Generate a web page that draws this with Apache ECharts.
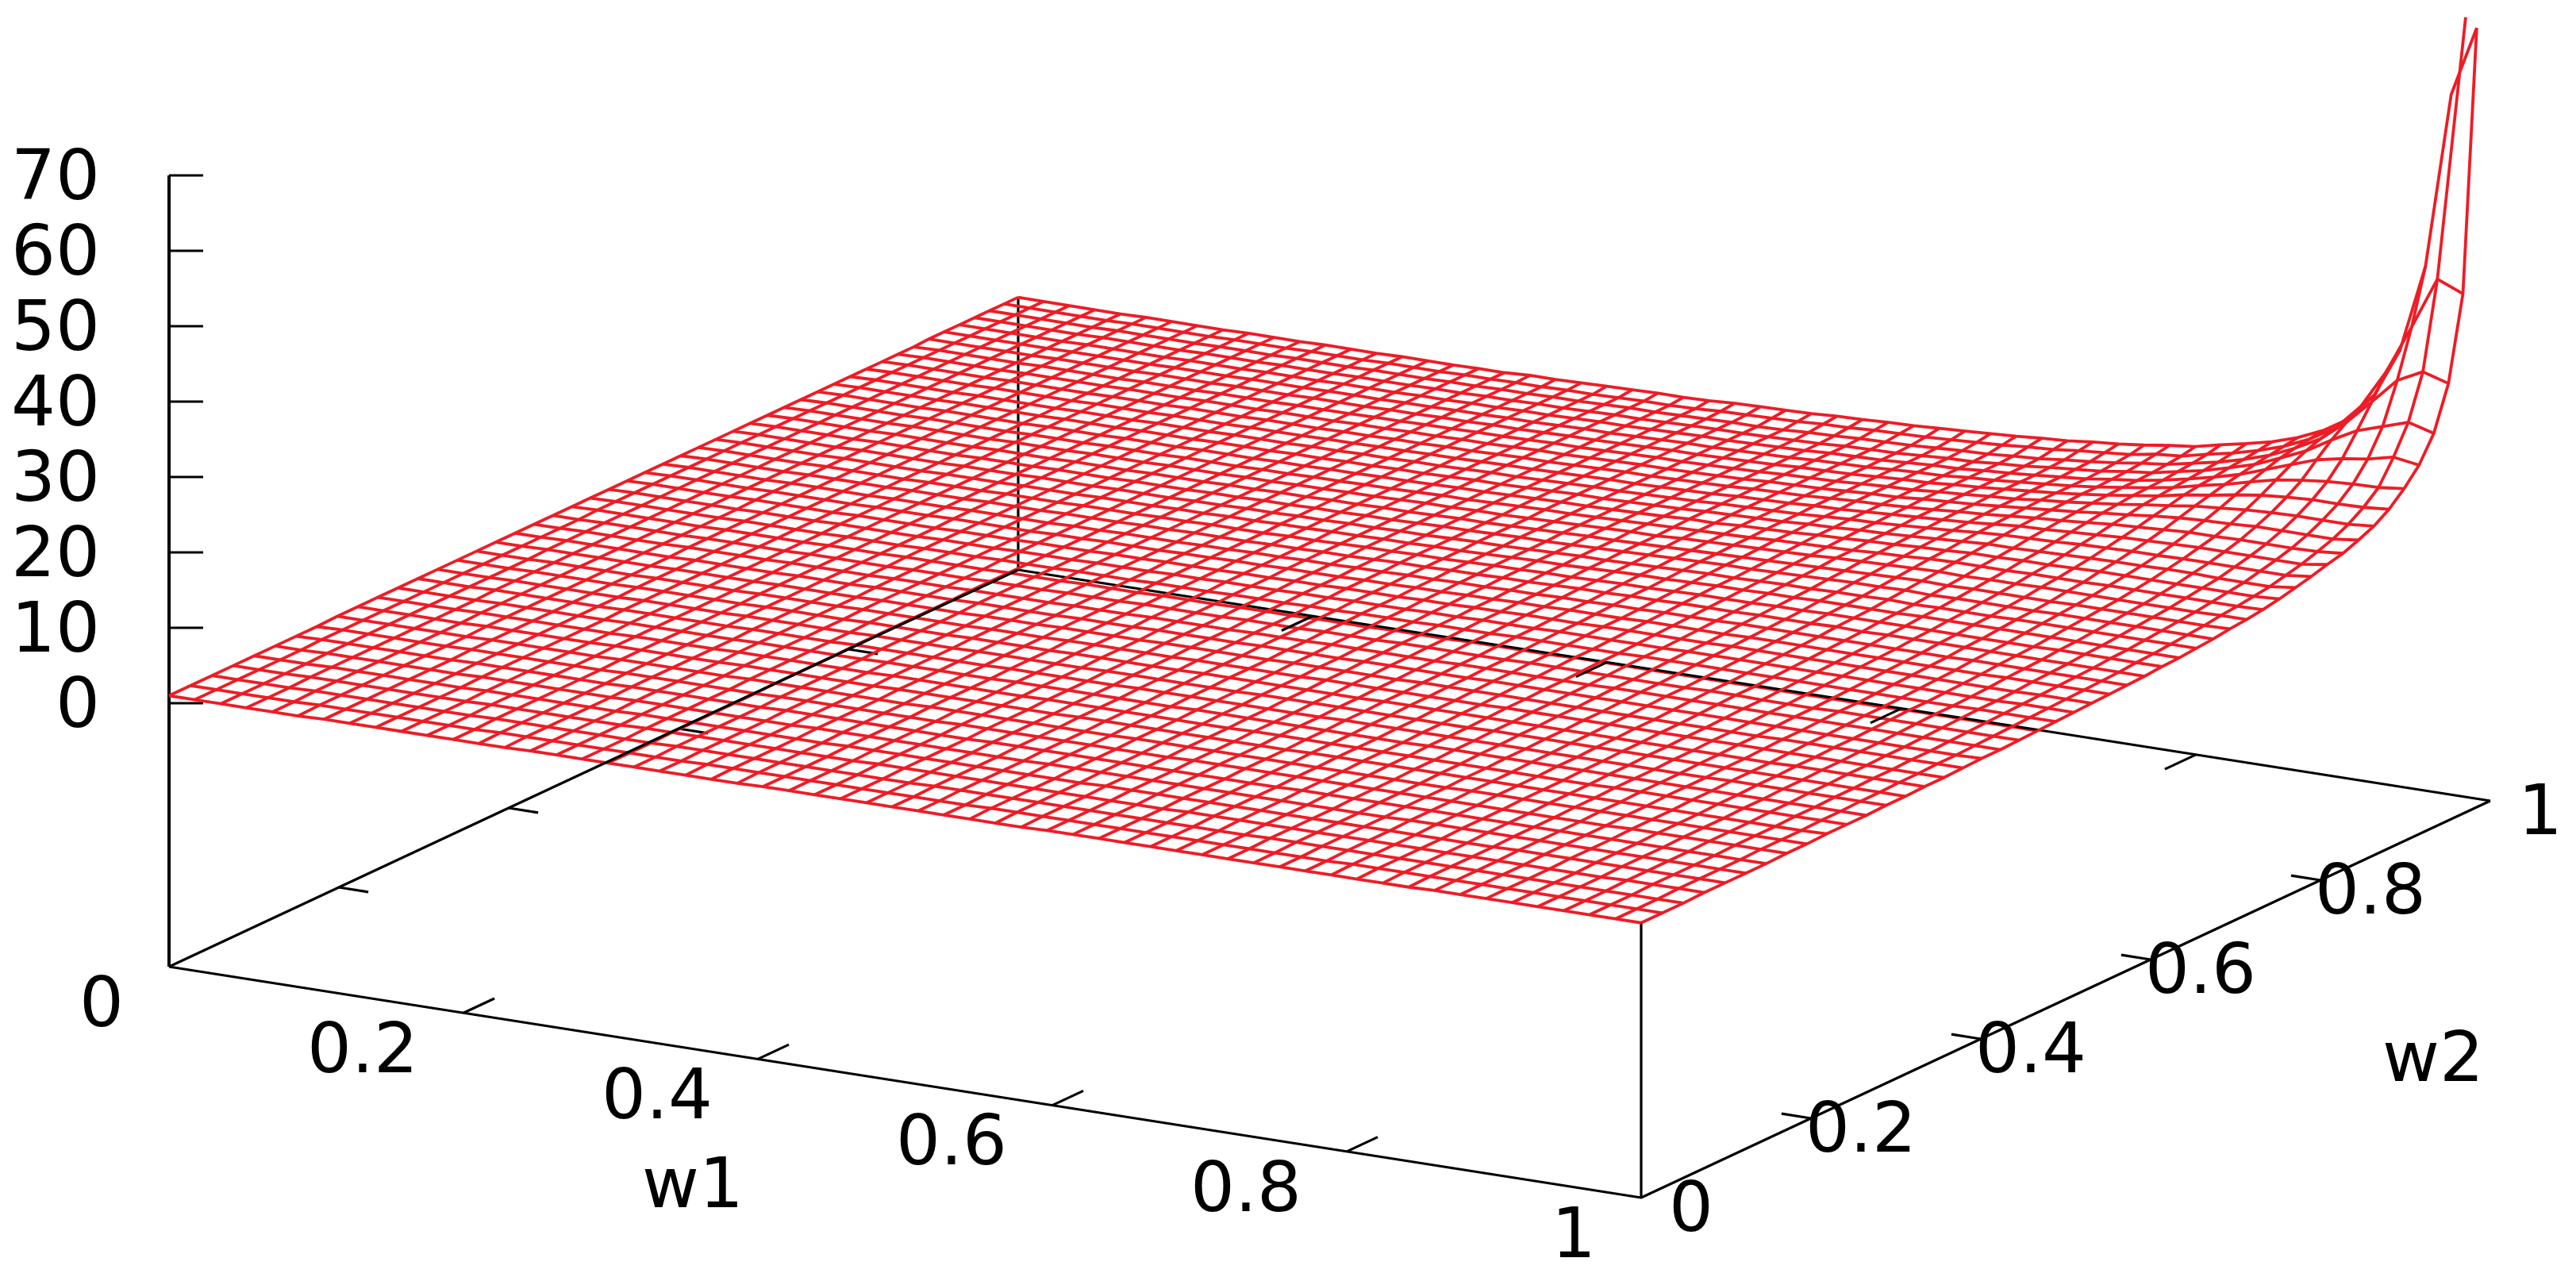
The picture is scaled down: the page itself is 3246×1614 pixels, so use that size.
<!DOCTYPE html>
<html>
<head>
<meta charset="utf-8">
<script src="https://cdn.jsdelivr.net/npm/echarts@6/dist/echarts.min.js"></script>
<style>
  html, body { margin: 0; background: #fff; }
  #chart { width: 3246px; height: 1614px; }
</style>
</head>
<body>
<div id="chart"></div>
<script>
const w1Grid = [0,.0175,.0351,.0526,.0702,.0877,.1053,.1228,.1404,.1579,.1754,.193,.2105,.2281,.2456,.2632,.2807,.2982,.3158,.3333,.3509,.3684,.386,.4035,.4211,.4386,.4561,.4737,.4912,.5088,.5263,.5439,.5614,.5789,.5965,.614,.6316,.6491,.6667,.6842,.7018,.7193,.7368,.7544,.7719,.7895,.807,.8246,.8421,.8596,.8772,.8947,.9123,.9298,.9474,.9649,.9825,1]
const w2Grid = [0,.0254,.0506,.0757,.1005,.1252,.1497,.174,.1982,.2222,.246,.2696,.2931,.3163,.3394,.3623,.385,.4076,.43,.4522,.4742,.496,.5177,.5392,.5605,.5816,.6026,.6233,.6439,.6643,.6845,.7046,.7245,.7441,.7637,.783,.8021,.8211,.8399,.8585,.8769,.8951,.9131,.931,.9487,.9662,.9835,1]
const zTicks = [0, 10, 20, 30, 40, 50, 60, 70]
const w1Ticks = [0.2, 0.4, 0.6, 0.8]
const w2Ticks = [0.2, 0.4, 0.6, 0.8]
const w1Labels = [0, 0.2, 0.4, 0.6, 0.8, 1]
const w2Labels = [0, 0.2, 0.4, 0.6, 0.8, 1]

// surface heights, one row per w1 line
// flat part, written as value,count pairs along w2
const zRuns = [
  [1.0,8,1.1,33,1.2,7],
  [1.0,6,1.1,14,1.2,28],
  [1.0,5,1.1,11,1.2,32],
  [1.0,3,1.1,9,1.2,36],
  [1.0,2,1.1,8,1.2,38],
  [1.0,1,1.1,8,1.2,14,1.3,25],
  [1.1,7,1.2,11,1.3,30],
  [1.1,6,1.2,8,1.3,34],
  [1.1,5,1.2,7,1.3,36],
  [1.1,4,1.2,7,1.3,11,1.4,26],
  [1.1,3,1.2,6,1.3,9,1.4,30],
  [1.1,2,1.2,6,1.3,7,1.4,33],
  [1.1,1,1.2,6,1.3,6,1.4,11,1.5,24],
  [1.1,1,1.2,5,1.3,6,1.4,8,1.5,28],
  [1.2,5,1.3,5,1.4,7,1.5,31],
  [1.2,4,1.3,5,1.4,6,1.5,11,1.6,22],
  [1.2,3,1.3,5,1.4,6,1.5,7,1.6,27],
  [1.2,3,1.3,5,1.4,4,1.5,6,1.6,30],
  [1.2,2,1.3,5,1.4,5,1.5,5,1.6,7,1.7,24],
  [1.2,2,1.3,4,1.4,5,1.5,5,1.6,5,1.7,27],
  [1.2,1,1.3,5,1.4,4,1.5,4,1.6,5,1.7,7,1.8,21,1.9,1],
  [1.2,1,1.3,4,1.4,4,1.5,4,1.6,5,1.7,5,1.8,24,1.9,1],
  [1.2,1,1.3,4,1.4,4,1.5,4,1.6,3,1.7,5,1.8,7,1.9,19,2.0,1],
  [1.3,4,1.4,4,1.5,4,1.6,3,1.7,4,1.8,5,1.9,23,2.1,1],
  [1.3,4,1.4,4,1.5,3,1.6,3,1.7,4,1.8,4,1.9,6,2.0,19,2.2,1],
  [1.3,3,1.4,4,1.5,4,1.6,3,1.7,3,1.8,4,1.9,3,2.0,8,2.1,15,2.3,1],
  [1.3,3,1.4,4,1.5,3,1.6,3,1.7,3,1.8,4,1.9,3,2.0,4,2.1,20,2.3,1],
  [1.3,3,1.4,3,1.5,4,1.6,3,1.7,3,1.8,3,1.9,3,2.0,3,2.1,5,2.2,17,2.4,1],
  [1.3,2,1.4,4,1.5,3,1.6,3,1.7,3,1.8,3,1.9,3,2.0,2,2.1,3,2.2,7,2.3,13,2.4,1,2.6,1],
  [1.3,2,1.4,4,1.5,3,1.6,3,1.7,2,1.8,3,1.9,3,2.0,2,2.1,3,2.2,4,2.3,4,2.4,13,2.5,1,2.7,1],
  [1.3,2,1.4,3,1.5,4,1.6,3,1.7,2,1.8,3,1.9,2,2.0,2,2.1,3,2.2,2,2.3,4,2.4,16,2.6,1,2.8,1],
  [1.3,1,1.4,4,1.5,3,1.6,3,1.7,3,1.8,2,1.9,2,2.0,3,2.1,2,2.2,2,2.3,2,2.4,4,2.5,15,2.7,1,2.9,1],
  [1.3,1,1.4,4,1.5,3,1.6,3,1.7,2,1.8,3,1.9,2,2.0,2,2.1,2,2.2,2,2.3,2,2.4,2,2.5,3,2.6,14,2.7,1,2.9,1,3.1,1],
  [1.3,1,1.4,3,1.5,4,1.6,3,1.7,2,1.8,2,1.9,2,2.0,2,2.1,2,2.2,2,2.3,2,2.4,2,2.5,2,2.6,3,2.7,13,2.8,1,3.0,1,3.2,1],
  [1.4,4,1.5,3,1.6,3,1.7,3,1.8,2,1.9,2,2.0,2,2.1,2,2.2,1,2.3,2,2.4,2,2.5,2,2.6,2,2.7,3,2.8,1,2.9,11,3.0,1,3.2,1,3.4,1],
  [1.4,4,1.5,3,1.6,3,1.7,3,1.8,2,1.9,2,2.0,2,2.1,1,2.2,2,2.3,1,2.4,2,2.5,1,2.6,2,2.7,2,2.8,2,2.9,3,3.0,10,3.1,1,3.3,1,3.5,1],
  [1.4,4,1.5,3,1.6,3,1.7,2,1.8,2,1.9,2,2.0,2,2.1,2,2.2,1,2.3,2,2.4,1,2.5,2,2.6,1,2.7,1,2.8,2,2.9,2,3.0,2,3.1,11,3.2,1,3.4,1,3.7,1],
  [1.4,3,1.5,4,1.6,2,1.7,3,1.8,2,1.9,2,2.0,2,2.1,2,2.2,1,2.3,1,2.4,2,2.5,1,2.6,1,2.7,2,2.8,1,2.9,1,3.0,2,3.1,2,3.2,3,3.3,8,3.4,1,3.6,1,3.9,1],
  [1.4,3,1.5,4,1.6,2,1.7,3,1.8,2,1.9,2,2.0,1,2.1,2,2.2,2,2.3,1,2.4,1,2.5,2,2.6,1,2.7,1,2.8,1,2.9,1,3.0,1,3.1,2,3.2,1,3.3,2,3.4,3,3.5,7,3.6,1,3.8,1,4.1,1],
  [1.4,3,1.5,3,1.6,3,1.7,3,1.8,2,1.9,2,2.0,1,2.1,2,2.2,1,2.3,2,2.4,1,2.5,1,2.6,1,2.7,1,2.8,1,2.9,1,3.0,2,3.1,1,3.2,1,3.3,1,3.4,1,3.5,2,3.6,9,3.7,1,4.0,1,4.3,1],
  [1.4,3,1.5,3,1.6,3,1.7,2,1.8,3,1.9,1,2.0,2,2.1,2,2.2,1,2.3,2,2.4,1,2.5,1,2.6,1,2.7,1,2.8,1,2.9,1,3.0,1,3.1,1,3.2,1,3.3,1,3.4,1,3.5,1,3.6,1,3.7,2,3.8,2,3.9,6,4.0,1,4.3,1,4.6,1],
  [1.4,2,1.5,4,1.6,3,1.7,2,1.8,2,1.9,2,2.0,2,2.1,2,2.2,1,2.3,1,2.4,2,2.5,1,2.6,1,2.7,1,2.8,1,2.9,1,3.1,1,3.2,1,3.3,1,3.4,1,3.6,2,3.8,2,3.9,1,4.0,2,4.1,6,4.2,1,4.5,1,4.8,1],
  [1.4,2,1.5,4,1.6,3,1.7,2,1.8,2,1.9,2,2.0,2,2.1,1,2.2,2,2.3,1,2.4,1,2.5,2,2.6,1,2.8,1,2.9,1,3.0,1,3.1,1,3.2,1,3.4,1,3.5,1,3.7,1,3.8,1,3.9,1,4.0,1,4.1,1,4.2,1,4.3,2,4.4,4,4.5,1,4.6,1,4.9,1,5.2,1],
  [1.4,2,1.5,4,1.6,3,1.7,2,1.8,2,1.9,2,2.0,2,2.1,1,2.2,2,2.3,1,2.4,1,2.5,1,2.6,1,2.7,1,2.8,1,2.9,1,3.0,1,3.2,1,3.3,1,3.5,1,3.6,1,3.8,1,3.9,1,4.1,1,4.2,1,4.3,1,4.4,1,4.5,1,4.6,2,4.7,3,4.8,1,4.9,1,5.2,1,5.5,1],
  [1.4,2,1.5,3,1.6,3,1.7,3,1.8,2,1.9,2,2.0,2,2.1,1,2.2,2,2.3,1,2.4,1,2.5,1,2.6,1,2.7,1,2.8,1,2.9,1,3.1,1,3.2,1,3.3,1,3.5,1,3.7,1,3.9,1,4.1,1,4.2,1,4.4,1,4.6,1,4.7,1,4.8,1,4.9,1,5.0,4,5.1,1,5.3,1,5.5,1,5.9,1],
  [1.4,1,1.5,4,1.6,3,1.7,3,1.8,2,1.9,2,2.0,2,2.1,1,2.2,1,2.3,2,2.4,1,2.5,1,2.6,1,2.7,1,2.8,1,3.0,1,3.1,1,3.2,1,3.4,1,3.6,1,3.8,1,4.0,1,4.2,1,4.4,1,4.6,1,4.8,1,5.0,1,5.1,1,5.2,1,5.3,1,5.4,2,5.5,1,5.6,1,5.8,1,6.1,1,6.4,1],
  [1.4,1,1.5,4,1.6,3,1.7,3,1.8,2,1.9,2,2.0,2,2.1,1,2.2,1,2.3,2,2.4,1,2.5,1,2.6,1,2.7,1,2.8,1,2.9,1,3.1,1,3.2,1,3.3,1,3.5,1,3.7,1,3.9,1,4.2,1,4.4,1,4.6,1,4.9,1,5.1,1,5.3,1,5.5,1,5.7,1,5.8,1,5.9,2,6.0,1,6.2,1,6.4,1,6.8,1]
]
// rise towards the corner, one value per w2 line
const zRowsHigh = [
  [1.4,1.5,1.5,1.5,1.5,1.6,1.6,1.6,1.7,1.7,1.7,1.8,1.8,1.9,1.9,2.0,2.0,2.1,2.2,2.2,2.3,2.4,2.5,2.6,2.7,2.8,3.0,3.1,3.3,3.4,3.6,3.8,4.0,4.2,4.5,4.7,5.0,5.3,5.6,5.9,6.1,6.3,6.4,6.5,6.7,6.9,7.2,7.6],
  [1.4,1.5,1.5,1.5,1.5,1.6,1.6,1.6,1.7,1.7,1.8,1.8,1.8,1.9,1.9,2.0,2.0,2.1,2.2,2.2,2.3,2.4,2.5,2.6,2.7,2.8,3.0,3.1,3.3,3.4,3.6,3.8,4.0,4.3,4.5,4.8,5.2,5.5,5.9,6.2,6.6,6.8,7.0,7.2,7.4,7.6,7.9,8.3],
  [1.5,1.5,1.5,1.5,1.6,1.6,1.6,1.6,1.7,1.7,1.8,1.8,1.8,1.9,1.9,2.0,2.0,2.1,2.2,2.2,2.3,2.4,2.5,2.6,2.7,2.8,3.0,3.1,3.3,3.4,3.6,3.8,4.1,4.3,4.6,4.9,5.3,5.7,6.1,6.6,7.0,7.5,7.8,8.0,8.3,8.5,8.8,9.1],
  [1.5,1.5,1.5,1.5,1.6,1.6,1.6,1.6,1.7,1.7,1.8,1.8,1.8,1.9,1.9,2.0,2.1,2.1,2.2,2.3,2.3,2.4,2.5,2.6,2.7,2.8,3.0,3.1,3.3,3.5,3.6,3.8,4.1,4.3,4.7,5.0,5.4,5.8,6.3,6.9,7.5,8.0,8.5,8.9,9.3,9.6,9.9,10.2],
  [1.5,1.5,1.5,1.5,1.6,1.6,1.6,1.7,1.7,1.7,1.8,1.8,1.9,1.9,1.9,2.0,2.1,2.1,2.2,2.3,2.3,2.4,2.5,2.6,2.7,2.9,3.0,3.1,3.3,3.5,3.7,3.9,4.1,4.4,4.7,5.0,5.4,5.9,6.5,7.1,7.8,8.6,9.4,10.1,10.7,11.1,11.4,11.7],
  [1.5,1.5,1.5,1.5,1.6,1.6,1.6,1.7,1.7,1.7,1.8,1.8,1.9,1.9,2.0,2.0,2.1,2.1,2.2,2.3,2.4,2.4,2.5,2.6,2.7,2.9,3.0,3.1,3.3,3.5,3.7,3.9,4.1,4.4,4.7,5.1,5.5,6.0,6.5,7.2,8.1,9.1,10.2,11.3,12.2,12.9,13.4,13.8],
  [1.5,1.5,1.5,1.5,1.6,1.6,1.6,1.7,1.7,1.7,1.8,1.8,1.9,1.9,2.0,2.0,2.1,2.1,2.2,2.3,2.4,2.4,2.5,2.6,2.8,2.9,3.0,3.2,3.3,3.5,3.7,3.9,4.1,4.4,4.7,5.1,5.5,6.0,6.6,7.4,8.3,9.4,10.7,12.5,14.2,15.6,16.8,17.5],
  [1.5,1.5,1.5,1.6,1.6,1.6,1.6,1.7,1.7,1.7,1.8,1.8,1.9,1.9,2.0,2.0,2.1,2.1,2.2,2.3,2.4,2.5,2.5,2.6,2.8,2.9,3.0,3.2,3.3,3.5,3.7,3.9,4.1,4.4,4.7,5.0,5.5,6.0,6.6,7.4,8.4,9.6,11.1,13.2,16.0,18.9,22.0,24.0],
  [1.5,1.5,1.5,1.6,1.6,1.6,1.6,1.7,1.7,1.7,1.8,1.8,1.9,1.9,2.0,2.0,2.1,2.1,2.2,2.3,2.4,2.5,2.6,2.7,2.8,2.9,3.0,3.2,3.3,3.5,3.7,3.9,4.1,4.4,4.7,5.0,5.5,6.0,6.6,7.4,8.4,9.6,11.3,13.7,17.1,22.3,28.5,35.7],
  [1.5,1.5,1.5,1.6,1.6,1.6,1.6,1.7,1.7,1.7,1.8,1.8,1.9,1.9,2.0,2.0,2.1,2.1,2.2,2.3,2.4,2.5,2.6,2.7,2.8,2.9,3.0,3.2,3.3,3.5,3.7,3.9,4.2,4.4,4.7,5.0,5.5,6.0,6.7,7.4,8.4,9.7,11.4,14.5,18.2,24.0,35.4,59.0],
  [1.5,1.5,1.5,1.6,1.6,1.6,1.6,1.7,1.7,1.8,1.8,1.8,1.9,1.9,2.0,2.0,2.1,2.2,2.2,2.3,2.4,2.5,2.6,2.7,2.8,2.9,3.0,3.2,3.3,3.5,3.7,4.0,4.2,4.5,4.9,5.4,5.9,6.5,7.0,7.8,8.7,10.0,11.8,14.0,17.3,23.0,34.0,68.4]
]
// the second spike line leaves the grid plan and stops here
const spikeTip = [0.9925, 0.984, 69.6]

function expandRuns(runs) {
  const row = []
  for (let k = 0; k < runs.length; k += 2) {
    for (let n = 0; n < runs[k + 1]; n++) row.push(runs[k])
  }
  return row
}
const zRows = zRuns.map(expandRuns).concat(zRowsHigh)

const zBase = -34.95
const w2EndShrink = 0.016

// layers: the far box edges run parallel to one family of wires each,
// so they sit above that family or they would vanish under it
const layer = { box: 1, w2Wire: 2, backEdge: 3, w1Wire: 4, leftEdge: 5, text: 6 }

function project(w1, w2, z) {
  return [213 + 1855 * w1 + 1070 * w2, 886 + 291 * w1 - 500 * w2 - 9.5 * z]
}

function blackLine(points, z, width) {
  return {
    type: 'line', data: points, symbol: 'none', silent: true, animation: false, clip: false, z: z,
    lineStyle: { color: '#000', width: width || 3.2, cap: 'butt' }
  }
}

function redLine(points, z) {
  return {
    type: 'line', data: points, symbol: 'none', silent: true, animation: false, clip: false, z: z,
    lineStyle: { color: '#ee1c25', width: 3.8 }
  }
}

function surfacePoint(i, j) {
  const w1 = w1Grid[i]
  return project(w1, w2Grid[j] * (1 - w2EndShrink * w1), zRows[i][j])
}

const series = []

// base box and verticals
series.push(blackLine([project(0, 0, zBase), project(1, 0, zBase), project(1, 1, zBase)], layer.box))
series.push(blackLine([project(1, 1, zBase), project(0, 1, zBase)], layer.backEdge))
series.push(blackLine([project(0, 1, zBase), project(0, 0, zBase)], layer.leftEdge))
series.push(blackLine([project(0, 0, zBase), project(0, 0, 70)], layer.box, 4))
series.push(blackLine([project(1, 0, zBase), project(1, 0, zRows[w1Grid.length - 1][0])], layer.box))
series.push(blackLine([project(0, 1, zBase), project(0, 1, zRows[0][w2Grid.length - 1])], layer.box))

// ticks
zTicks.forEach(v => {
  const p = project(0, 0, v)
  series.push(blackLine([p, [p[0] + 43, p[1]]], layer.box))
})
w1Ticks.forEach(v => {
  series.push(blackLine([project(v, 0, zBase), project(v, 0.0365, zBase)], layer.box))
  series.push(blackLine([project(v, 1, zBase), project(v, 1 - 0.0365, zBase)], layer.backEdge))
})
w2Ticks.forEach(v => {
  series.push(blackLine([project(1, v, zBase), project(0.98, v, zBase)], layer.box))
  series.push(blackLine([project(0, v, zBase), project(0.02, v, zBase)], layer.backEdge))
})

// wire surface
w1Grid.forEach((w, i) => {
  const points = w2Grid.map((_, j) => surfacePoint(i, j))
  if (i === w1Grid.length - 2) points[points.length - 1] = project(spikeTip[0], spikeTip[1], spikeTip[2])
  series.push(redLine(points, layer.w1Wire))
})
w2Grid.forEach((w, j) => {
  series.push(redLine(w1Grid.map((_, i) => surfacePoint(i, j)), layer.w2Wire))
})

// tick labels and axis names
function textSeries(items, align) {
  return {
    type: 'scatter', symbolSize: 0, silent: true, animation: false, clip: false, z: layer.text,
    data: items,
    itemStyle: { opacity: 1 },
    label: {
      show: true, position: 'inside', align: align, verticalAlign: 'middle',
      fontFamily: 'DejaVu Sans', fontSize: 88, color: '#000', opacity: 1,
      formatter: p => p.value[2]
    }
  }
}
const zText = zTicks.map(v => { const p = project(0, 0, v); return [126, p[1] + 7, String(v)] })
const w1Text = w1Labels.map(v => { const p = project(v, 0, zBase); return [p[0] - 57, p[1] + 52, String(v)] })
const w2Text = w2Labels.map(v => { const p = project(1, v, zBase); return [p[0] + 63, p[1] + 19, String(v)] })
series.push(textSeries(zText, 'right'))
series.push(textSeries(w1Text, 'right'))
series.push(textSeries(w2Text, 'center'))
series.push(textSeries([[873, 1498, 'w1'], [3066, 1339, 'w2']], 'center'))

const chart = echarts.init(document.getElementById('chart'))
chart.setOption({
  backgroundColor: '#ffffff',
  animation: false,
  grid: { left: 0, right: 0, top: 0, bottom: 0 },
  xAxis: { type: 'value', min: 0, max: 3246, show: false },
  yAxis: { type: 'value', min: 0, max: 1614, inverse: true, show: false },
  series: series
})
</script>
</body>
</html>
